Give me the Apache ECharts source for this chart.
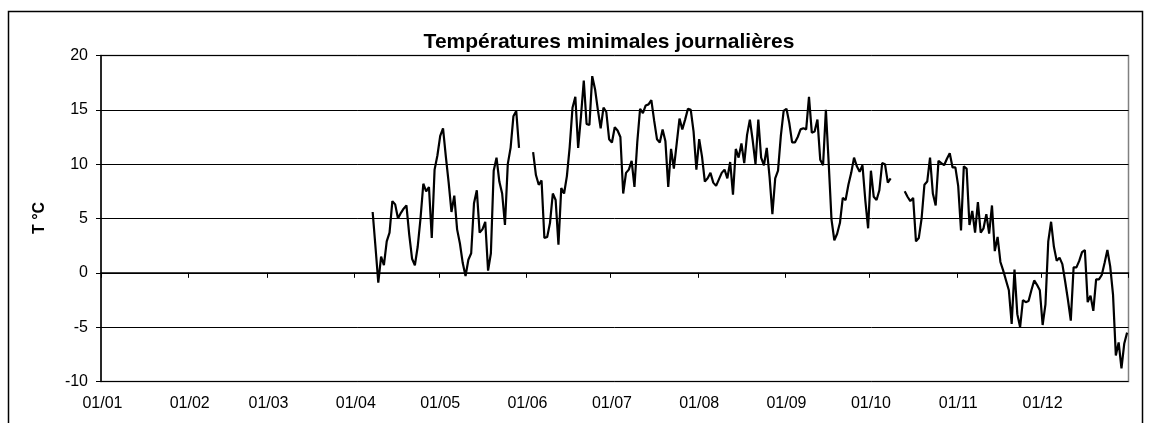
<!DOCTYPE html>
<html>
<head>
<meta charset="utf-8">
<script src="https://cdn.jsdelivr.net/npm/echarts@6/dist/echarts.min.js"></script>
<style>
html,body{margin:0;padding:0;background:#fff;}
#chart{width:1151px;height:423px;}
</style>
</head>
<body>
<div id="chart"></div>
<script>
// ---- DATA ----
const chartTitle = 'Températures minimales journalières';
const yAxisName = 'T °C';
const monthLengths = [31,28,31,30,31,30,31,31,30,31,30,31];
const monthLabels = ['01/01','01/02','01/03','01/04','01/05','01/06','01/07','01/08','01/09','01/10','01/11','01/12'];
const yTicks = [-10,-5,0,5,10,15,20];

// segment 1 : from 07/04
const seg1Start = '07/04';
const seg1 = [5.6,2.4,-0.9,1.5,0.7,2.9,3.7,6.6,6.3,5.0,5.5,5.9,6.2,3.5,1.3,0.7,2.4,5.0,8.2,7.5,
  7.9,3.2,9.5,10.8,12.6,13.3,10.7,8.3,5.6,7.1,4.0,2.7,0.9,-0.3,1.2,1.8,6.4,7.6,3.7,4.0,
  4.7,0.2,1.8,9.4,10.6,8.4,7.3,4.4,10.0,11.5,14.4,14.9,11.5];
// segment 2 : from 03/06
const seg2Start = '03/06';
const seg2 = [11.1,9.0,8.1,8.5,3.2,3.3,4.6,7.3,6.7,2.6,7.8,7.3,8.9,11.6,15.2,16.2,11.5,14.4,17.7,13.7,
  13.6,18.1,16.9,15.0,13.3,15.2,14.8,12.3,12.0,13.4,13.1,12.5,7.3,9.2,9.5,10.3,7.9,12.0,15.1,14.7,
  15.4,15.5,15.9,14.0,12.3,12.0,13.2,12.1,7.9,11.4,9.6,11.9,14.2,13.2,14.1,15.1,15.0,13.0,9.5,12.3,
  10.7,8.4,8.7,9.2,8.3,8.0,8.6,9.2,9.5,8.7,10.2,7.2,11.4,10.6,11.9,10.1,12.7,14.1,12.2,10.0,
  14.1,10.6,9.9,11.5,8.8,5.4,8.7,9.4,12.6,14.9,15.1,13.8,12.0,12.0,12.5,13.2,13.3,13.2,16.2,12.9,
  13.0,14.1,10.4,9.9,15.0,10.1,4.9,3.0,3.6,4.6,6.9,6.7,8.1,9.2,10.6,9.8,9.3,9.9,6.7,4.1,
  9.4,7.0,6.7,7.6,10.1,10.0,8.3,8.7];
// segment 3 : from 13/10
const seg3Start = '13/10';
const seg3 = [7.5,7.0,6.6,6.9,2.9,3.2,5.0,8.1,8.4,10.6,7.3,6.2,10.3,10.1,9.9,10.5,11.0,9.7,9.7,8.0,
  3.9,9.8,9.6,4.4,5.7,3.7,6.5,3.7,4.1,5.4,3.6,6.2,2.0,3.3,1.0,0.2,-0.7,-1.6,-4.7,0.3,
  -3.8,-5.0,-2.5,-2.7,-2.6,-1.6,-0.7,-1.1,-1.6,-4.8,-2.9,2.9,4.7,2.4,1.1,1.4,0.8,-0.8,-2.5,-4.4,
  0.5,0.5,1.1,1.9,2.1,-2.7,-2.1,-3.5,-0.6,-0.6,-0.2,0.9,2.1,0.6,-2.0,-7.6,-6.4,-8.8,-6.5,-5.5];

// ---- BUILD ----
const pad = n => (n < 10 ? '0' : '') + n;
const days = [];
monthLengths.forEach((len, m) => { for (let d = 1; d <= len; d++) days.push(pad(d) + '/' + pad(m + 1)); });
const values = days.map(() => null);
[[seg1Start, seg1], [seg2Start, seg2], [seg3Start, seg3]].forEach(([start, arr]) => {
  const s = days.indexOf(start);
  arr.forEach((v, i) => { values[s + i] = v; });
});

const FONT = '"Liberation Sans", Arial, sans-serif';
const chart = echarts.init(document.getElementById('chart'), null, {renderer: 'canvas'});
chart.setOption({
  backgroundColor: '#fff',
  animation: false,
  title: {
    text: chartTitle,
    left: 604,
    top: 27,
    textAlign: 'center',
    textStyle: {fontFamily: FONT, fontSize: 21, fontWeight: 'bold', color: '#000'}
  },
  graphic: [
    {type: 'rect', shape: {x: 8.5, y: 11.5, width: 1134, height: 440},
     style: {fill: 'none', stroke: '#000', lineWidth: 1.5}, silent: true},
    {type: 'text', x: 40, y: 218, rotation: Math.PI / 2,
     style: {text: yAxisName, fontFamily: FONT, fontSize: 16, fontWeight: 'bold', fill: '#000',
             textAlign: 'center', textVerticalAlign: 'middle'}}
  ],
  grid: {left: 101, right: 22.5, top: 55.5, bottom: 41.5, containLabel: false,
         show: true, borderColor: '#808080', borderWidth: 1.5, backgroundColor: '#fff'},
  xAxis: {
    type: 'category',
    data: days,
    boundaryGap: true,
    axisLine: {show: true, lineStyle: {color: '#000', width: 1.5}},
    axisTick: {show: true, length: 5, lineStyle: {color: '#000', width: 1},
               interval: (i, v) => monthLabels.indexOf(v) >= 0},
    axisLabel: {show: true, margin: 14, fontFamily: FONT, fontSize: 16, color: '#000',
                interval: (i, v) => monthLabels.indexOf(v) >= 0},
    splitLine: {show: false}
  },
  yAxis: {
    type: 'value',
    min: yTicks[0], max: yTicks[yTicks.length - 1], interval: 5,
    axisLine: {show: true, lineStyle: {color: '#000', width: 1.5}},
    axisTick: {show: true, length: 5, lineStyle: {color: '#000', width: 1}},
    axisLabel: {margin: 13, fontFamily: FONT, fontSize: 16, color: '#000'},
    splitLine: {show: true, lineStyle: {color: '#000', width: 1}}
  },
  series: [{
    type: 'line',
    data: values,
    showSymbol: false,
    symbol: 'none',
    connectNulls: false,
    lineStyle: {color: '#000', width: 2.2},
    itemStyle: {color: '#000'}
  }]
});
</script>
</body>
</html>
